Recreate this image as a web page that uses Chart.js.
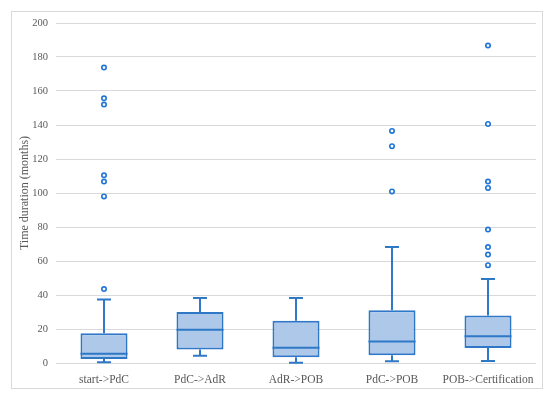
<!DOCTYPE html>
<html>
<head>
<meta charset="utf-8">
<script src="https://cdn.jsdelivr.net/npm/chart.js@4/dist/chart.umd.min.js"></script>
<style>
html,body{margin:0;padding:0;background:#fff;}
#wrap{width:550px;height:395px;position:relative;}
</style>
</head>
<body>
<div id="wrap"><canvas id="c" width="550" height="395"></canvas></div>
<script>
const categories = ['start->PdC', 'PdC->AdR', 'AdR->POB', 'PdC->POB', 'POB->Certification'];
const whiskerMin = [0.4, 4.3, 0.2, 1.0, 1.2];
const q1 = [2.4, 7.9, 3.4, 4.5, 8.8];
const median = [5.5, 19.6, 9.0, 12.6, 15.7];
const q3 = [17.5, 30.0, 24.9, 31.0, 28.0];
const whiskerMax = [37.3, 38.2, 38.2, 68.2, 49.4];
const outliers = [
  [43.5, 98, 106.7, 110.4, 152, 155.7, 173.8],
  [],
  [],
  [100.9, 127.5, 136.5],
  [57.5, 63.8, 68.2, 78.5, 103, 106.7, 140.6, 186.7]
];
const yTicks = [0, 20, 40, 60, 80, 100, 120, 140, 160, 180, 200];

const boxBorder = '#2f78c8';
const boxFill = '#aec8ea';
const textColor = '#595959';
const fontFamily = "'Liberation Serif', 'DejaVu Serif', serif";

const outlierPoints = [];
outliers.forEach((arr, i) => arr.forEach(v => outlierPoints.push({x: categories[i], y: v})));

const framePlugin = {
  id: 'frame',
  beforeDraw(chart) {
    const ctx = chart.ctx;
    ctx.save();
    ctx.fillStyle = '#ffffff';
    ctx.fillRect(0, 0, chart.width, chart.height);
    ctx.strokeStyle = '#d9d9d9';
    ctx.lineWidth = 1;
    ctx.strokeRect(11.5, 11.5, 531, 377);
    ctx.restore();
  }
};

const boxPlugin = {
  id: 'boxparts',
  afterDatasetsDraw(chart) {
    const ctx = chart.ctx;
    const xs = chart.scales.x, ys = chart.scales.y;
    const meta = chart.getDatasetMeta(0);
    ctx.save();
    ctx.strokeStyle = boxBorder;
    ctx.lineWidth = 2;
    categories.forEach((c, i) => {
      const bar = meta.data[i];
      const cx = xs.getPixelForValue(i);
      const half = bar.width / 2;
      const capHalf = 7;
      const yMed = ys.getPixelForValue(median[i]);
      const yQ1 = ys.getPixelForValue(q1[i]);
      const yQ3 = ys.getPixelForValue(q3[i]);
      const yMin = ys.getPixelForValue(whiskerMin[i]);
      const yMax = ys.getPixelForValue(whiskerMax[i]);
      ctx.beginPath();
      ctx.moveTo(cx - half, yMed); ctx.lineTo(cx + half, yMed);
      ctx.moveTo(cx, yQ3); ctx.lineTo(cx, yMax);
      ctx.moveTo(cx - capHalf, yMax); ctx.lineTo(cx + capHalf, yMax);
      ctx.moveTo(cx, yQ1); ctx.lineTo(cx, yMin);
      ctx.moveTo(cx - capHalf, yMin); ctx.lineTo(cx + capHalf, yMin);
      ctx.stroke();
    });
    ctx.restore();
  }
};

new Chart(document.getElementById('c'), {
  data: {
    labels: categories,
    datasets: [
      {
        type: 'bar',
        data: categories.map((c, i) => [q1[i], q3[i]]),
        backgroundColor: boxFill,
        borderColor: boxBorder,
        borderWidth: 2,
        borderSkipped: false,
        barPercentage: 0.49,
        categoryPercentage: 1,
        order: 2
      },
      {
        type: 'line',
        data: outlierPoints,
        showLine: false,
        pointRadius: 2.2,
        pointBorderWidth: 1.6,
        pointBackgroundColor: '#ffffff',
        pointBorderColor: '#1f74d6',
        order: 1
      }
    ]
  },
  options: {
    responsive: false,
    animation: false,
    events: [],
    layout: { padding: { left: 18, right: 14, top: 23, bottom: 0 } },
    plugins: { legend: { display: false }, tooltip: { enabled: false }, title: { display: false } },
    scales: {
      x: {
        type: 'category',
        grid: { display: false },
        border: { display: false },
        ticks: { color: textColor, font: { family: fontFamily, size: 11.5 }, padding: 2, maxRotation: 0 },
        afterFit(scale) { scale.height = 32; }
      },
      y: {
        min: 0, max: 200,
        afterBuildTicks(scale) { scale.ticks = yTicks.map(v => ({value: v})); },
        grid: { color: '#d9d9d9', lineWidth: 1, drawTicks: false },
        border: { display: false },
        ticks: { color: textColor, font: { family: fontFamily, size: 10.5 }, padding: 8 },
        title: { display: true, text: 'Time duration (months)', color: textColor, font: { family: fontFamily, size: 12 }, padding: { top: 0, bottom: 4 } },
        afterFit(scale) { scale.width = 38; }
      }
    }
  },
  plugins: [framePlugin, boxPlugin]
});
</script>
</body>
</html>
